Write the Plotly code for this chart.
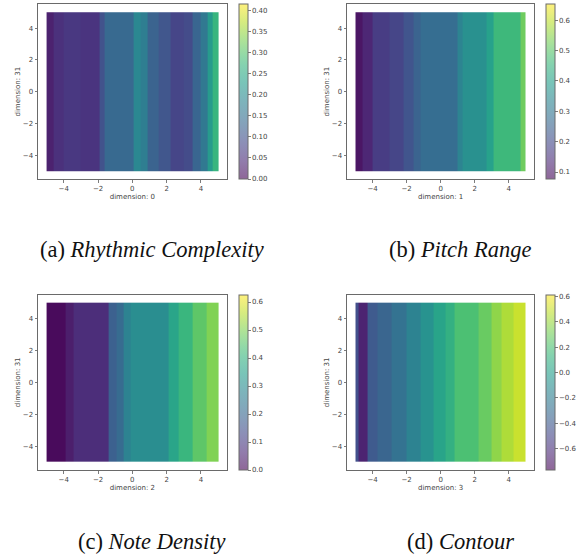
import plotly.graph_objects as go
from plotly.colors import sample_colorscale

W, H = 586, 560

captions = ["(a) <i>Rhythmic Complexity</i>", "(b) <i>Pitch Range</i>", "(c) <i>Note Density</i>", "(d) <i>Contour</i>"]
x_titles = ["dimension: 0", "dimension: 1", "dimension: 2", "dimension: 3"]
y_title = "dimension: 31"
axis_ticks = [-4, -2, 0, 2, 4]

edges_a = [-5, -4.6, -4, -3, -1.9, -1.6, 0.1, 0.5, 0.9, 1.5, 2.2, 3, 3.5, 4, 4.4, 4.7, 5]
vals_a = [0.03, 0.05, 0.06, 0.055, 0.10, 0.135, 0.19, 0.17, 0.125, 0.105, 0.08, 0.09, 0.13, 0.16, 0.22, 0.27]
edges_b = [-5, -4.6, -4, -3, -2.2, -1.6, -1.2, 1, 1.3, 2.7, 3.1, 4.7, 5]
vals_b = [0.10, 0.13, 0.17, 0.19, 0.22, 0.25, 0.275, 0.33, 0.36, 0.40, 0.46, 0.52]
edges_c = [-5, -3.9, -3.4, -2, -1.4, -0.9, -0.5, -0.1, 2.1, 2.7, 3.5, 4.3, 5]
vals_c = [0.005, 0.04, 0.07, 0.07, 0.18, 0.21, 0.27, 0.30, 0.36, 0.41, 0.46, 0.50]
edges_d = [-5, -4.85, -4.3, -3.7, -2.9, -2, -1.2, -0.4, 0.3, 0.8, 2.2, 3, 3.6, 4.3, 5]
vals_d = [-0.45, -0.66, -0.40, -0.34, -0.27, -0.17, -0.08, 0.02, 0.10, 0.20, 0.28, 0.37, 0.44, 0.50]

ranges = [(0, 0.415), (0.077, 0.653), (0, 0.625), (-0.77, 0.613)]
cb_ticks = [
    [0, 0.05, 0.10, 0.15, 0.20, 0.25, 0.30, 0.35, 0.40],
    [0.1, 0.2, 0.3, 0.4, 0.5, 0.6],
    [0.0, 0.1, 0.2, 0.3, 0.4, 0.5, 0.6],
    [-0.6, -0.4, -0.2, 0.0, 0.2, 0.4, 0.6],
]
cb_fmt = [".2f", ".1f", ".1f", ".1f"]
edges = [edges_a, edges_b, edges_c, edges_d]
vals = [vals_a, vals_b, vals_c, vals_d]

# pixel boxes: left, right, top, bottom of each axes frame, colorbar left
frames = [(38, 226.7, 4.3, 179, 238.5), (347, 534.3, 4.3, 179, 546.3),
          (38, 226.7, 294.7, 470, 238.5), (347, 534.3, 294.7, 470, 546.3)]
cap_pos = [(152, 250), (460, 250), (152, 541), (460, 541)]

FONT = "DejaVu Sans"
TXT = "#444444"
FRAME = "#6a6a6a"
FS = 7
steps = [i / 20 for i in range(21)]
opaque = [[s, c] for s, c in zip(steps, sample_colorscale("Viridis", steps))]
translucent = [[s, c.replace("rgb(", "rgba(").replace(")", ",0.6)")] for s, c in opaque]

fig = go.Figure()
layout = dict(width=W, height=H, autosize=False, margin=dict(l=0, r=0, t=0, b=0, autoexpand=False),
              paper_bgcolor="white", plot_bgcolor="white", showlegend=False,
              font=dict(family=FONT, size=FS, color=TXT))
annotations = []
for i in range(4):
    n = "" if i == 0 else str(i + 1)
    l, r, t, b, cb = frames[i]
    cmin, cmax = ranges[i]
    fig.add_trace(go.Heatmap(x=edges[i], y=[-5, 5], z=[vals[i]], zmin=cmin, zmax=cmax, opacity=0.97,
                             colorscale=opaque, showscale=False, xaxis="x" + n, yaxis="y" + n))
    fig.add_trace(go.Scatter(x=[0], y=[0], mode="markers", xaxis="x" + n, yaxis="y" + n,
                             marker=dict(size=0.1, color=[cmin], cmin=cmin, cmax=cmax, colorscale=translucent,
                                         showscale=True,
                                         colorbar=dict(x=cb / W, xanchor="left", xpad=0, ypad=0, y=1 - b / H,
                                                       yanchor="bottom", lenmode="pixels", len=b - t,
                                                       thicknessmode="pixels", thickness=9,
                                                       outlinecolor=FRAME, outlinewidth=1, ticks="outside",
                                                       ticklen=2.5, tickwidth=0.7, tickcolor=TXT,
                                                       tickvals=cb_ticks[i], tickformat=cb_fmt[i],
                                                       tickfont=dict(family=FONT, size=FS, color=TXT)))))
    common = dict(range=[-5.5, 5.5], tickvals=axis_ticks, ticks="outside", ticklen=2.5, tickwidth=0.7,
                  tickcolor=TXT, showgrid=False, zeroline=False, showline=True, linecolor=FRAME,
                  linewidth=1, mirror=True, automargin=False, tickfont=dict(family=FONT, size=FS, color=TXT))
    layout["xaxis" + n] = dict(common, domain=[l / W, r / W], anchor="y" + n,
                               title=dict(text=x_titles[i], standoff=1, font=dict(family=FONT, size=FS, color=TXT)))
    layout["yaxis" + n] = dict(common, domain=[1 - b / H, 1 - t / H], anchor="x" + n,
                               title=dict(text=y_title, standoff=1, font=dict(family=FONT, size=FS, color=TXT)))
    annotations.append(dict(text=captions[i], x=cap_pos[i][0] / W, y=1 - cap_pos[i][1] / H, xref="paper", yref="paper",
                            xanchor="center", yanchor="middle", showarrow=False,
                            font=dict(family="Liberation Serif", size=22.5, color="#111111")))
fig.update_layout(annotations=annotations, hovermode=False, **layout)
fig.write_html("out.html", config=dict(displayModeBar=False, staticPlot=True),
               post_script="document.body.style.margin='0';document.body.style.overflow='hidden';")
